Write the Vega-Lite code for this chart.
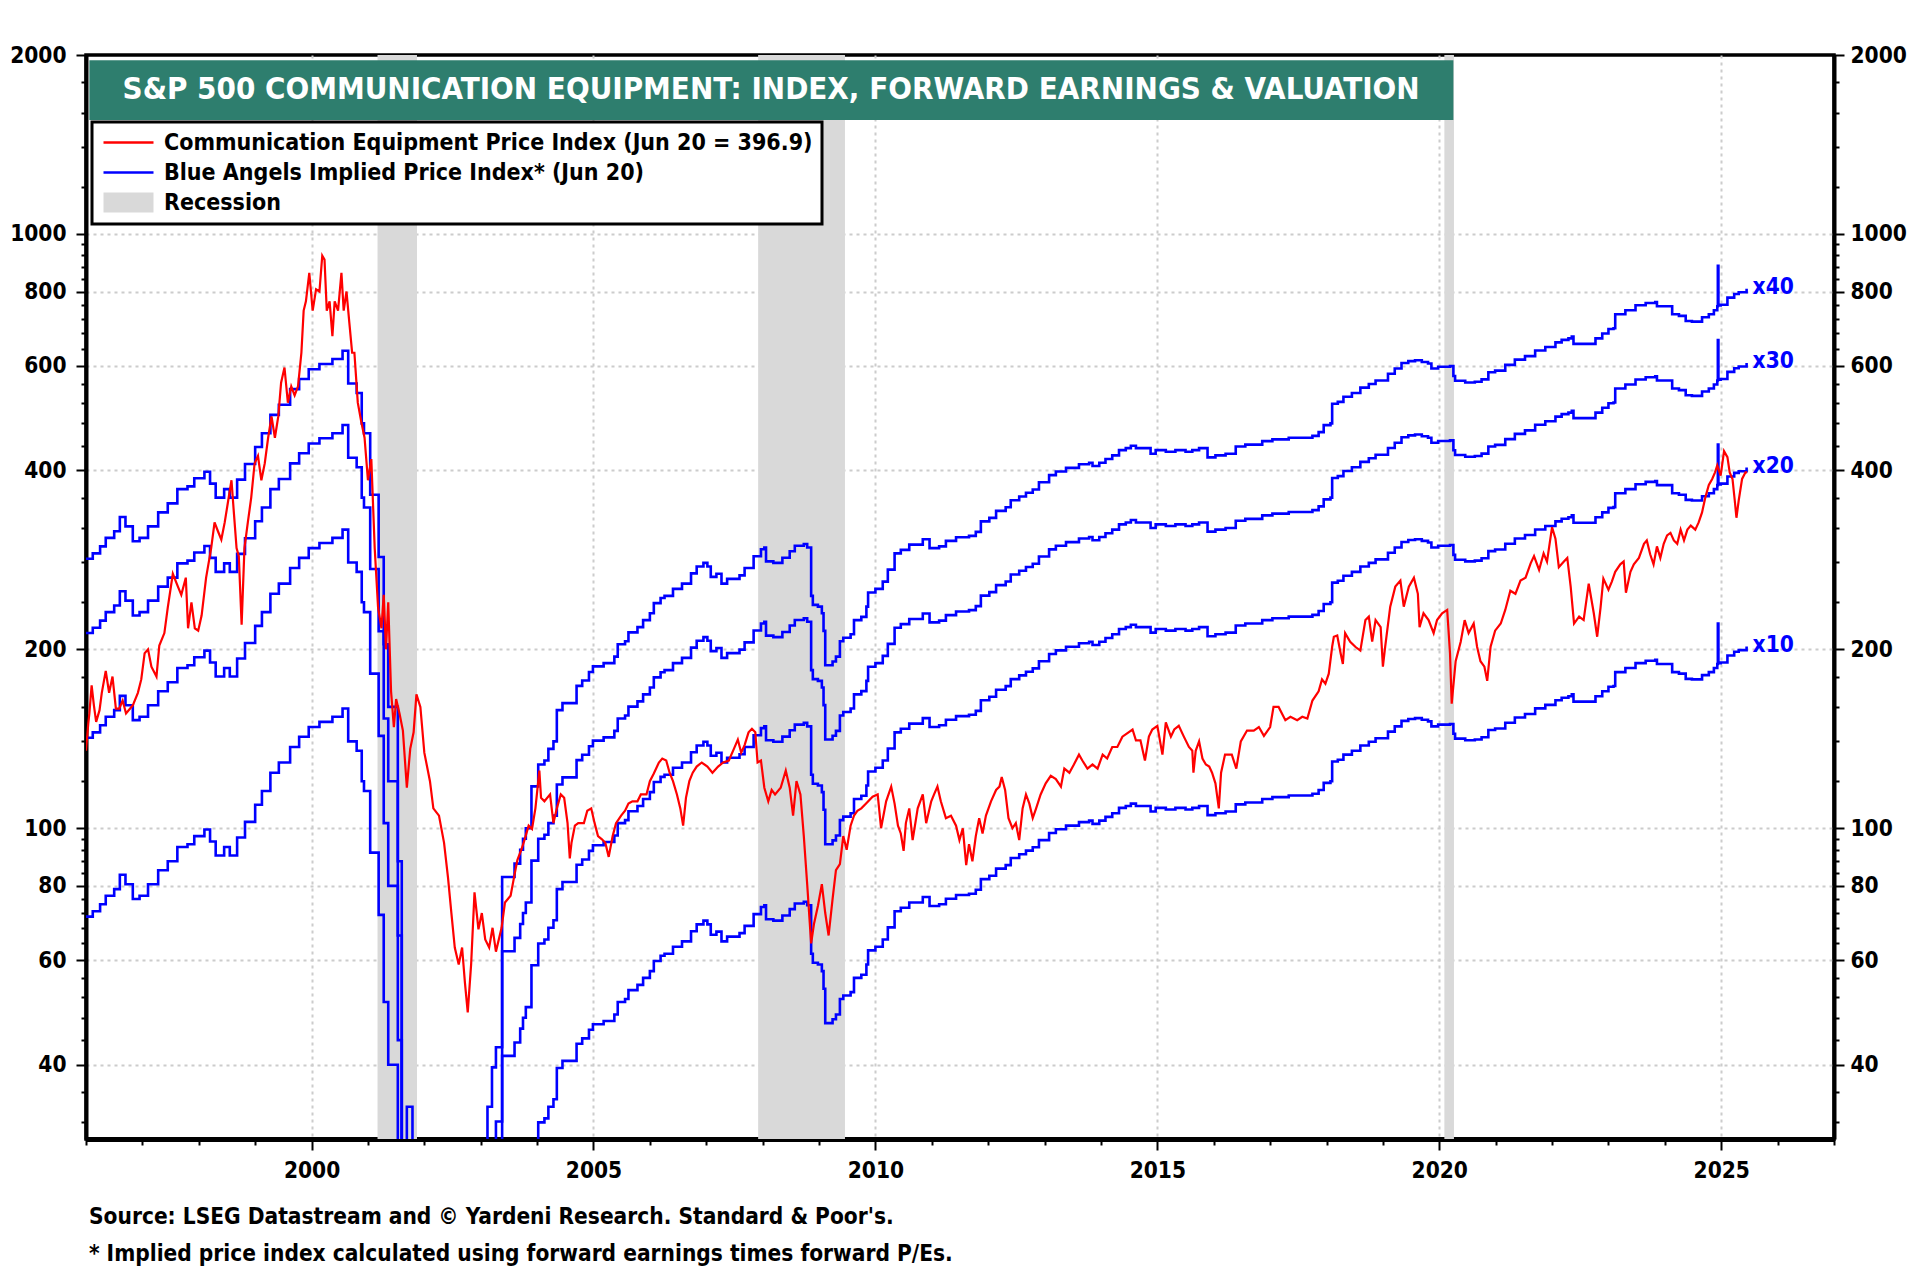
{
  "$schema": "https://vega.github.io/schema/vega-lite/v6.json",
  "width": 1748,
  "height": 1084,
  "autosize": {"type": "none"},
  "padding": {"left": 86, "top": 55, "right": 86, "bottom": 141},
  "background": "white",
  "config": {
    "font": "Liberation Sans Narrow, Arial Narrow, DejaVu Sans Condensed, sans-serif",
    "view": {"stroke": "black", "strokeWidth": 3.5},
    "axis": {
      "title": null,
      "domainColor": "black",
      "domainWidth": 4,
      "tickColor": "black",
      "tickWidth": 2,
      "labelColor": "black",
      "labelFontSize": 22.5,
      "labelFontWeight": "bold",
      "labelOverlap": false,
      "labelBound": false,
      "gridColor": "#cccccc",
      "gridDash": [3, 4],
      "gridWidth": 2
    }
  },
  "title": {
    "text": "Source: LSEG Datastream and © Yardeni Research. Standard & Poor's.",
    "subtitle": "* Implied price index calculated using forward earnings times forward P/Es.",
    "orient": "bottom",
    "anchor": "start",
    "frame": "group",
    "offset": 24,
    "dx": 3,
    "fontSize": 22.5,
    "fontWeight": "bold",
    "color": "black",
    "subtitleFontSize": 22.5,
    "subtitleFontWeight": "bold",
    "subtitleColor": "black",
    "subtitlePadding": 15
  },
  "datasets": {
    "recessions": [
      {"start": 2001.17, "end": 2001.87},
      {"start": 2007.92, "end": 2009.46},
      {"start": 2020.09, "end": 2020.26}
    ],
    "blue": [
      {"t": 1996.00, "x10": 71.0, "x20": 142.0, "x30": 213.0, "x40": 284.0},
      {"t": 1996.12, "x10": 72.5, "x20": 145.0, "x30": 217.5, "x40": 290.0},
      {"t": 1996.25, "x10": 74.5, "x20": 149.0, "x30": 223.5, "x40": 298.0},
      {"t": 1996.35, "x10": 77.0, "x20": 154.0, "x30": 231.0, "x40": 308.0},
      {"t": 1996.50, "x10": 79.0, "x20": 158.0, "x30": 237.0, "x40": 316.0},
      {"t": 1996.60, "x10": 83.5, "x20": 167.0, "x30": 250.5, "x40": 334.0},
      {"t": 1996.70, "x10": 80.5, "x20": 161.0, "x30": 241.5, "x40": 322.0},
      {"t": 1996.83, "x10": 76.0, "x20": 152.0, "x30": 228.0, "x40": 304.0},
      {"t": 1996.95, "x10": 77.0, "x20": 154.0, "x30": 231.0, "x40": 308.0},
      {"t": 1997.10, "x10": 80.5, "x20": 161.0, "x30": 241.5, "x40": 322.0},
      {"t": 1997.28, "x10": 85.0, "x20": 170.0, "x30": 255.0, "x40": 340.0},
      {"t": 1997.45, "x10": 88.0, "x20": 176.0, "x30": 264.0, "x40": 352.0},
      {"t": 1997.62, "x10": 93.0, "x20": 186.0, "x30": 279.0, "x40": 372.0},
      {"t": 1997.80, "x10": 94.0, "x20": 188.0, "x30": 282.0, "x40": 376.0},
      {"t": 1997.92, "x10": 97.0, "x20": 194.0, "x30": 291.0, "x40": 388.0},
      {"t": 1998.10, "x10": 99.5, "x20": 199.0, "x30": 298.5, "x40": 398.0},
      {"t": 1998.20, "x10": 95.0, "x20": 190.0, "x30": 285.0, "x40": 380.0},
      {"t": 1998.30, "x10": 90.0, "x20": 180.0, "x30": 270.0, "x40": 360.0},
      {"t": 1998.45, "x10": 93.0, "x20": 186.0, "x30": 279.0, "x40": 372.0},
      {"t": 1998.55, "x10": 90.0, "x20": 180.0, "x30": 270.0, "x40": 360.0},
      {"t": 1998.68, "x10": 96.5, "x20": 193.0, "x30": 289.5, "x40": 386.0},
      {"t": 1998.82, "x10": 102.5, "x20": 205.0, "x30": 307.5, "x40": 410.0},
      {"t": 1999.00, "x10": 109.5, "x20": 219.0, "x30": 328.5, "x40": 438.0},
      {"t": 1999.12, "x10": 115.5, "x20": 231.0, "x30": 346.5, "x40": 462.0},
      {"t": 1999.27, "x10": 124.0, "x20": 248.0, "x30": 372.0, "x40": 496.0},
      {"t": 1999.42, "x10": 129.0, "x20": 258.0, "x30": 387.0, "x40": 516.0},
      {"t": 1999.62, "x10": 137.0, "x20": 274.0, "x30": 411.0, "x40": 548.0},
      {"t": 1999.78, "x10": 142.5, "x20": 285.0, "x30": 427.5, "x40": 570.0},
      {"t": 1999.95, "x10": 148.0, "x20": 296.0, "x30": 444.0, "x40": 592.0},
      {"t": 2000.14, "x10": 151.0, "x20": 302.0, "x30": 453.0, "x40": 604.0},
      {"t": 2000.37, "x10": 154.0, "x20": 308.0, "x30": 462.0, "x40": 616.0},
      {"t": 2000.55, "x10": 159.0, "x20": 318.0, "x30": 477.0, "x40": 636.0},
      {"t": 2000.65, "x10": 140.0, "x20": 280.0, "x30": 420.0, "x40": 560.0},
      {"t": 2000.80, "x10": 135.0, "x20": 270.0, "x30": 405.0, "x40": 540.0},
      {"t": 2000.89, "x10": 120.0, "x20": 240.0, "x30": 360.0, "x40": 480.0},
      {"t": 2000.93, "x10": 115.5, "x20": 231.0, "x30": 346.5, "x40": 462.0},
      {"t": 2001.04, "x10": 91.0, "x20": 182.0, "x30": 273.0, "x40": 364.0},
      {"t": 2001.19, "x10": 71.5, "x20": 143.0, "x30": 214.5, "x40": 286.0},
      {"t": 2001.28, "x10": 51.0, "x20": 102.0, "x30": 153.0, "x40": 204.0},
      {"t": 2001.36, "x10": 40.0, "x20": 80.0, "x30": 120.0, "x40": 160.0},
      {"t": 2001.53, "x10": 22.0, "x20": 44.0, "x30": 66.0, "x40": 88.0},
      {"t": 2001.60, "x10": 5.0, "x20": 10.0, "x30": 15.0, "x40": 20.0},
      {"t": 2001.69, "x10": 8.5, "x20": 17.0, "x30": 25.5, "x40": 34.0},
      {"t": 2001.79, "x10": 5.0, "x20": 10.0, "x30": 15.0, "x40": 20.0},
      {"t": 2002.50, "x10": 3.0, "x20": 6.0, "x30": 9.0, "x40": 12.0},
      {"t": 2003.12, "x10": 8.5, "x20": 17.0, "x30": 25.5, "x40": 34.0},
      {"t": 2003.20, "x10": 9.9, "x20": 19.8, "x30": 29.7, "x40": 39.6},
      {"t": 2003.27, "x10": 10.7, "x20": 21.4, "x30": 32.1, "x40": 42.8},
      {"t": 2003.38, "x10": 20.7, "x20": 41.4, "x30": 62.1, "x40": 82.8},
      {"t": 2003.60, "x10": 21.8, "x20": 43.6, "x30": 65.4, "x40": 87.2},
      {"t": 2003.70, "x10": 23.0, "x20": 46.0, "x30": 69.0, "x40": 92.0},
      {"t": 2003.75, "x10": 24.0, "x20": 48.0, "x30": 72.0, "x40": 96.0},
      {"t": 2003.80, "x10": 25.0, "x20": 50.0, "x30": 75.0, "x40": 100.0},
      {"t": 2003.90, "x10": 29.4, "x20": 58.8, "x30": 88.2, "x40": 117.6},
      {"t": 2004.02, "x10": 32.0, "x20": 64.0, "x30": 96.0, "x40": 128.0},
      {"t": 2004.13, "x10": 32.5, "x20": 65.0, "x30": 97.5, "x40": 130.0},
      {"t": 2004.20, "x10": 34.0, "x20": 68.0, "x30": 102.0, "x40": 136.0},
      {"t": 2004.29, "x10": 35.0, "x20": 70.0, "x30": 105.0, "x40": 140.0},
      {"t": 2004.35, "x10": 39.5, "x20": 79.0, "x30": 118.5, "x40": 158.0},
      {"t": 2004.45, "x10": 40.6, "x20": 81.2, "x30": 121.8, "x40": 162.4},
      {"t": 2004.70, "x10": 43.4, "x20": 86.8, "x30": 130.2, "x40": 173.6},
      {"t": 2004.80, "x10": 44.3, "x20": 88.6, "x30": 132.9, "x40": 177.2},
      {"t": 2004.92, "x10": 45.8, "x20": 91.6, "x30": 137.4, "x40": 183.2},
      {"t": 2004.99, "x10": 46.8, "x20": 93.6, "x30": 140.4, "x40": 187.2},
      {"t": 2005.18, "x10": 47.4, "x20": 94.8, "x30": 142.2, "x40": 189.6},
      {"t": 2005.37, "x10": 48.6, "x20": 97.2, "x30": 145.8, "x40": 194.4},
      {"t": 2005.43, "x10": 51.0, "x20": 102.0, "x30": 153.0, "x40": 204.0},
      {"t": 2005.56, "x10": 51.6, "x20": 103.2, "x30": 154.8, "x40": 206.4},
      {"t": 2005.62, "x10": 53.4, "x20": 106.8, "x30": 160.2, "x40": 213.6},
      {"t": 2005.78, "x10": 54.5, "x20": 109.0, "x30": 163.5, "x40": 218.0},
      {"t": 2005.88, "x10": 56.0, "x20": 112.0, "x30": 168.0, "x40": 224.0},
      {"t": 2006.00, "x10": 57.5, "x20": 115.0, "x30": 172.5, "x40": 230.0},
      {"t": 2006.07, "x10": 59.8, "x20": 119.6, "x30": 179.4, "x40": 239.2},
      {"t": 2006.19, "x10": 61.0, "x20": 122.0, "x30": 183.0, "x40": 244.0},
      {"t": 2006.26, "x10": 61.5, "x20": 123.0, "x30": 184.5, "x40": 246.0},
      {"t": 2006.41, "x10": 63.2, "x20": 126.4, "x30": 189.6, "x40": 252.8},
      {"t": 2006.57, "x10": 64.5, "x20": 129.0, "x30": 193.5, "x40": 258.0},
      {"t": 2006.73, "x10": 67.1, "x20": 134.2, "x30": 201.3, "x40": 268.4},
      {"t": 2006.83, "x10": 68.9, "x20": 137.8, "x30": 206.7, "x40": 275.6},
      {"t": 2006.95, "x10": 69.9, "x20": 139.8, "x30": 209.7, "x40": 279.6},
      {"t": 2007.02, "x10": 68.9, "x20": 137.8, "x30": 206.7, "x40": 275.6},
      {"t": 2007.08, "x10": 66.2, "x20": 132.4, "x30": 198.6, "x40": 264.8},
      {"t": 2007.18, "x10": 67.0, "x20": 134.0, "x30": 201.0, "x40": 268.0},
      {"t": 2007.27, "x10": 64.5, "x20": 129.0, "x30": 193.5, "x40": 258.0},
      {"t": 2007.37, "x10": 65.7, "x20": 131.4, "x30": 197.1, "x40": 262.8},
      {"t": 2007.59, "x10": 66.6, "x20": 133.2, "x30": 199.8, "x40": 266.4},
      {"t": 2007.68, "x10": 68.5, "x20": 137.0, "x30": 205.5, "x40": 274.0},
      {"t": 2007.84, "x10": 71.7, "x20": 143.4, "x30": 215.1, "x40": 286.8},
      {"t": 2007.97, "x10": 73.7, "x20": 147.4, "x30": 221.1, "x40": 294.8},
      {"t": 2008.03, "x10": 74.2, "x20": 148.4, "x30": 222.6, "x40": 296.8},
      {"t": 2008.06, "x10": 70.3, "x20": 140.6, "x30": 210.9, "x40": 281.2},
      {"t": 2008.19, "x10": 69.9, "x20": 139.8, "x30": 209.7, "x40": 279.6},
      {"t": 2008.35, "x10": 71.3, "x20": 142.6, "x30": 213.9, "x40": 285.2},
      {"t": 2008.48, "x10": 73.1, "x20": 146.2, "x30": 219.3, "x40": 292.4},
      {"t": 2008.57, "x10": 74.7, "x20": 149.4, "x30": 224.1, "x40": 298.8},
      {"t": 2008.73, "x10": 75.2, "x20": 150.4, "x30": 225.6, "x40": 300.8},
      {"t": 2008.79, "x10": 74.2, "x20": 148.4, "x30": 222.6, "x40": 296.8},
      {"t": 2008.86, "x10": 61.5, "x20": 123.0, "x30": 184.5, "x40": 246.0},
      {"t": 2008.89, "x10": 59.4, "x20": 118.8, "x30": 178.2, "x40": 237.6},
      {"t": 2008.98, "x10": 59.0, "x20": 118.0, "x30": 177.0, "x40": 236.0},
      {"t": 2009.05, "x10": 57.5, "x20": 115.0, "x30": 172.5, "x40": 230.0},
      {"t": 2009.08, "x10": 53.7, "x20": 107.4, "x30": 161.1, "x40": 214.8},
      {"t": 2009.11, "x10": 47.0, "x20": 94.0, "x30": 141.0, "x40": 188.0},
      {"t": 2009.24, "x10": 47.7, "x20": 95.4, "x30": 143.1, "x40": 190.8},
      {"t": 2009.30, "x10": 48.6, "x20": 97.2, "x30": 145.8, "x40": 194.4},
      {"t": 2009.37, "x10": 51.6, "x20": 103.2, "x30": 154.8, "x40": 206.4},
      {"t": 2009.43, "x10": 52.3, "x20": 104.6, "x30": 156.9, "x40": 209.2},
      {"t": 2009.56, "x10": 53.0, "x20": 106.0, "x30": 159.0, "x40": 212.0},
      {"t": 2009.62, "x10": 56.0, "x20": 112.0, "x30": 168.0, "x40": 224.0},
      {"t": 2009.75, "x10": 56.7, "x20": 113.4, "x30": 170.1, "x40": 226.8},
      {"t": 2009.84, "x10": 59.0, "x20": 118.0, "x30": 177.0, "x40": 236.0},
      {"t": 2009.87, "x10": 62.3, "x20": 124.6, "x30": 186.9, "x40": 249.2},
      {"t": 2010.00, "x10": 63.2, "x20": 126.4, "x30": 189.6, "x40": 252.8},
      {"t": 2010.13, "x10": 65.0, "x20": 130.0, "x30": 195.0, "x40": 260.0},
      {"t": 2010.22, "x10": 68.1, "x20": 136.2, "x30": 204.3, "x40": 272.4},
      {"t": 2010.34, "x10": 72.5, "x20": 145.0, "x30": 217.5, "x40": 290.0},
      {"t": 2010.45, "x10": 73.5, "x20": 147.0, "x30": 220.5, "x40": 294.0},
      {"t": 2010.60, "x10": 75.0, "x20": 150.0, "x30": 225.0, "x40": 300.0},
      {"t": 2010.84, "x10": 76.6, "x20": 153.2, "x30": 229.8, "x40": 306.4},
      {"t": 2010.96, "x10": 74.0, "x20": 148.0, "x30": 222.0, "x40": 296.0},
      {"t": 2011.13, "x10": 74.5, "x20": 149.0, "x30": 223.5, "x40": 298.0},
      {"t": 2011.25, "x10": 76.1, "x20": 152.2, "x30": 228.3, "x40": 304.4},
      {"t": 2011.43, "x10": 77.2, "x20": 154.4, "x30": 231.6, "x40": 308.8},
      {"t": 2011.66, "x10": 77.6, "x20": 155.2, "x30": 232.8, "x40": 310.4},
      {"t": 2011.78, "x10": 78.8, "x20": 157.6, "x30": 236.4, "x40": 315.2},
      {"t": 2011.87, "x10": 82.1, "x20": 164.2, "x30": 246.3, "x40": 328.4},
      {"t": 2012.02, "x10": 83.2, "x20": 166.4, "x30": 249.6, "x40": 332.8},
      {"t": 2012.14, "x10": 85.5, "x20": 171.0, "x30": 256.5, "x40": 342.0},
      {"t": 2012.31, "x10": 86.7, "x20": 173.4, "x30": 260.1, "x40": 346.8},
      {"t": 2012.40, "x10": 89.1, "x20": 178.2, "x30": 267.3, "x40": 356.4},
      {"t": 2012.55, "x10": 90.4, "x20": 180.8, "x30": 271.2, "x40": 361.6},
      {"t": 2012.67, "x10": 91.7, "x20": 183.4, "x30": 275.1, "x40": 366.8},
      {"t": 2012.79, "x10": 92.9, "x20": 185.8, "x30": 278.7, "x40": 371.6},
      {"t": 2012.90, "x10": 95.5, "x20": 191.0, "x30": 286.5, "x40": 382.0},
      {"t": 2013.08, "x10": 98.2, "x20": 196.4, "x30": 294.6, "x40": 392.8},
      {"t": 2013.20, "x10": 99.6, "x20": 199.2, "x30": 298.8, "x40": 398.4},
      {"t": 2013.38, "x10": 101.0, "x20": 202.0, "x30": 303.0, "x40": 404.0},
      {"t": 2013.61, "x10": 102.4, "x20": 204.8, "x30": 307.2, "x40": 409.6},
      {"t": 2013.79, "x10": 103.0, "x20": 206.0, "x30": 309.0, "x40": 412.0},
      {"t": 2013.85, "x10": 101.7, "x20": 203.4, "x30": 305.1, "x40": 406.8},
      {"t": 2013.97, "x10": 103.0, "x20": 206.0, "x30": 309.0, "x40": 412.0},
      {"t": 2014.08, "x10": 104.5, "x20": 209.0, "x30": 313.5, "x40": 418.0},
      {"t": 2014.20, "x10": 106.0, "x20": 212.0, "x30": 318.0, "x40": 424.0},
      {"t": 2014.32, "x10": 108.2, "x20": 216.4, "x30": 324.6, "x40": 432.8},
      {"t": 2014.44, "x10": 109.0, "x20": 218.0, "x30": 327.0, "x40": 436.0},
      {"t": 2014.53, "x10": 110.0, "x20": 220.0, "x30": 330.0, "x40": 440.0},
      {"t": 2014.62, "x10": 109.0, "x20": 218.0, "x30": 327.0, "x40": 436.0},
      {"t": 2014.88, "x10": 106.7, "x20": 213.4, "x30": 320.1, "x40": 426.8},
      {"t": 2014.97, "x10": 108.2, "x20": 216.4, "x30": 324.6, "x40": 432.8},
      {"t": 2015.15, "x10": 107.5, "x20": 215.0, "x30": 322.5, "x40": 430.0},
      {"t": 2015.32, "x10": 108.2, "x20": 216.4, "x30": 324.6, "x40": 432.8},
      {"t": 2015.50, "x10": 107.5, "x20": 215.0, "x30": 322.5, "x40": 430.0},
      {"t": 2015.62, "x10": 108.2, "x20": 216.4, "x30": 324.6, "x40": 432.8},
      {"t": 2015.74, "x10": 109.0, "x20": 218.0, "x30": 327.0, "x40": 436.0},
      {"t": 2015.89, "x10": 105.2, "x20": 210.4, "x30": 315.6, "x40": 420.8},
      {"t": 2016.03, "x10": 106.0, "x20": 212.0, "x30": 318.0, "x40": 424.0},
      {"t": 2016.21, "x10": 106.7, "x20": 213.4, "x30": 320.1, "x40": 426.8},
      {"t": 2016.39, "x10": 109.7, "x20": 219.4, "x30": 329.1, "x40": 438.8},
      {"t": 2016.56, "x10": 110.5, "x20": 221.0, "x30": 331.5, "x40": 442.0},
      {"t": 2016.86, "x10": 112.0, "x20": 224.0, "x30": 336.0, "x40": 448.0},
      {"t": 2017.04, "x10": 112.8, "x20": 225.6, "x30": 338.4, "x40": 451.2},
      {"t": 2017.33, "x10": 113.5, "x20": 227.0, "x30": 340.5, "x40": 454.0},
      {"t": 2017.75, "x10": 114.3, "x20": 228.6, "x30": 342.9, "x40": 457.2},
      {"t": 2017.86, "x10": 116.0, "x20": 232.0, "x30": 348.0, "x40": 464.0},
      {"t": 2017.95, "x10": 119.2, "x20": 238.4, "x30": 357.6, "x40": 476.8},
      {"t": 2018.07, "x10": 120.0, "x20": 240.0, "x30": 360.0, "x40": 480.0},
      {"t": 2018.10, "x10": 129.5, "x20": 259.0, "x30": 388.5, "x40": 518.0},
      {"t": 2018.20, "x10": 130.4, "x20": 260.8, "x30": 391.2, "x40": 521.6},
      {"t": 2018.30, "x10": 133.0, "x20": 266.0, "x30": 399.0, "x40": 532.0},
      {"t": 2018.45, "x10": 135.0, "x20": 270.0, "x30": 405.0, "x40": 540.0},
      {"t": 2018.60, "x10": 137.8, "x20": 275.6, "x30": 413.4, "x40": 551.2},
      {"t": 2018.75, "x10": 139.8, "x20": 279.6, "x30": 419.4, "x40": 559.2},
      {"t": 2018.87, "x10": 141.7, "x20": 283.4, "x30": 425.1, "x40": 566.8},
      {"t": 2019.09, "x10": 145.4, "x20": 290.8, "x30": 436.2, "x40": 581.6},
      {"t": 2019.21, "x10": 148.4, "x20": 296.8, "x30": 445.2, "x40": 593.6},
      {"t": 2019.33, "x10": 151.6, "x20": 303.2, "x30": 454.8, "x40": 606.4},
      {"t": 2019.45, "x10": 152.7, "x20": 305.4, "x30": 458.1, "x40": 610.8},
      {"t": 2019.57, "x10": 153.2, "x20": 306.4, "x30": 459.6, "x40": 612.8},
      {"t": 2019.69, "x10": 152.2, "x20": 304.4, "x30": 456.6, "x40": 608.8},
      {"t": 2019.80, "x10": 151.3, "x20": 302.6, "x30": 453.9, "x40": 605.2},
      {"t": 2019.86, "x10": 148.4, "x20": 296.8, "x30": 445.2, "x40": 593.6},
      {"t": 2019.98, "x10": 149.4, "x20": 298.8, "x30": 448.2, "x40": 597.6},
      {"t": 2020.19, "x10": 149.8, "x20": 299.6, "x30": 449.4, "x40": 599.2},
      {"t": 2020.25, "x10": 144.2, "x20": 288.4, "x30": 432.6, "x40": 576.8},
      {"t": 2020.28, "x10": 141.5, "x20": 283.0, "x30": 424.5, "x40": 566.0},
      {"t": 2020.46, "x10": 140.6, "x20": 281.2, "x30": 421.8, "x40": 562.4},
      {"t": 2020.63, "x10": 141.0, "x20": 282.0, "x30": 423.0, "x40": 564.0},
      {"t": 2020.75, "x10": 142.3, "x20": 284.6, "x30": 426.9, "x40": 569.2},
      {"t": 2020.87, "x10": 146.3, "x20": 292.6, "x30": 438.9, "x40": 585.2},
      {"t": 2020.99, "x10": 147.2, "x20": 294.4, "x30": 441.6, "x40": 588.8},
      {"t": 2021.17, "x10": 150.5, "x20": 301.0, "x30": 451.5, "x40": 602.0},
      {"t": 2021.34, "x10": 153.6, "x20": 307.2, "x30": 460.8, "x40": 614.4},
      {"t": 2021.52, "x10": 155.7, "x20": 311.4, "x30": 467.1, "x40": 622.8},
      {"t": 2021.70, "x10": 159.1, "x20": 318.2, "x30": 477.3, "x40": 636.4},
      {"t": 2021.88, "x10": 161.3, "x20": 322.6, "x30": 483.9, "x40": 645.2},
      {"t": 2022.06, "x10": 164.2, "x20": 328.4, "x30": 492.6, "x40": 656.8},
      {"t": 2022.17, "x10": 165.8, "x20": 331.6, "x30": 497.4, "x40": 663.2},
      {"t": 2022.29, "x10": 166.8, "x20": 333.6, "x30": 500.4, "x40": 667.2},
      {"t": 2022.35, "x10": 168.0, "x20": 336.0, "x30": 504.0, "x40": 672.0},
      {"t": 2022.38, "x10": 163.3, "x20": 326.6, "x30": 489.9, "x40": 653.2},
      {"t": 2022.77, "x10": 166.8, "x20": 333.6, "x30": 500.4, "x40": 667.2},
      {"t": 2022.89, "x10": 170.0, "x20": 340.0, "x30": 510.0, "x40": 680.0},
      {"t": 2023.00, "x10": 173.0, "x20": 346.0, "x30": 519.0, "x40": 692.0},
      {"t": 2023.09, "x10": 173.5, "x20": 347.0, "x30": 520.5, "x40": 694.0},
      {"t": 2023.12, "x10": 183.1, "x20": 366.2, "x30": 549.3, "x40": 732.4},
      {"t": 2023.30, "x10": 186.0, "x20": 372.0, "x30": 558.0, "x40": 744.0},
      {"t": 2023.48, "x10": 189.6, "x20": 379.2, "x30": 568.8, "x40": 758.4},
      {"t": 2023.66, "x10": 191.3, "x20": 382.6, "x30": 573.9, "x40": 765.2},
      {"t": 2023.83, "x10": 192.0, "x20": 384.0, "x30": 576.0, "x40": 768.0},
      {"t": 2023.86, "x10": 188.9, "x20": 377.8, "x30": 566.7, "x40": 755.6},
      {"t": 2024.13, "x10": 183.1, "x20": 366.2, "x30": 549.3, "x40": 732.4},
      {"t": 2024.25, "x10": 182.0, "x20": 364.0, "x30": 546.0, "x40": 728.0},
      {"t": 2024.37, "x10": 178.4, "x20": 356.8, "x30": 535.2, "x40": 713.6},
      {"t": 2024.48, "x10": 178.0, "x20": 356.0, "x30": 534.0, "x40": 712.0},
      {"t": 2024.66, "x10": 181.0, "x20": 362.0, "x30": 543.0, "x40": 724.0},
      {"t": 2024.78, "x10": 183.1, "x20": 366.2, "x30": 549.3, "x40": 732.4},
      {"t": 2024.87, "x10": 186.0, "x20": 372.0, "x30": 558.0, "x40": 744.0},
      {"t": 2024.93, "x10": 188.9, "x20": 377.8, "x30": 566.7, "x40": 755.6},
      {"t": 2024.94, "x10": 221.0, "x20": 442.0, "x30": 663.0, "x40": 884.0},
      {"t": 2024.95, "x10": 189.5, "x20": 379.0, "x30": 568.5, "x40": 758.0},
      {"t": 2024.99, "x10": 190.0, "x20": 380.0, "x30": 570.0, "x40": 760.0},
      {"t": 2025.11, "x10": 195.3, "x20": 390.6, "x30": 585.9, "x40": 781.2},
      {"t": 2025.23, "x10": 198.1, "x20": 396.2, "x30": 594.3, "x40": 792.4},
      {"t": 2025.31, "x10": 199.4, "x20": 398.8, "x30": 598.2, "x40": 797.6},
      {"t": 2025.45, "x10": 202.2, "x20": 404.4, "x30": 606.6, "x40": 808.8}
    ],
    "red": [
      {"t": 1996.00, "v": 135}, {"t": 1996.04, "v": 150}, {"t": 1996.06, "v": 156}, {"t": 1996.10, "v": 174},
      {"t": 1996.14, "v": 161}, {"t": 1996.18, "v": 151}, {"t": 1996.24, "v": 158}, {"t": 1996.28, "v": 169},
      {"t": 1996.35, "v": 184}, {"t": 1996.41, "v": 169}, {"t": 1996.47, "v": 180}, {"t": 1996.53, "v": 159},
      {"t": 1996.59, "v": 159}, {"t": 1996.65, "v": 164}, {"t": 1996.71, "v": 156}, {"t": 1996.83, "v": 161},
      {"t": 1996.92, "v": 169}, {"t": 1996.98, "v": 178}, {"t": 1997.04, "v": 197}, {"t": 1997.10, "v": 200},
      {"t": 1997.16, "v": 187}, {"t": 1997.25, "v": 180}, {"t": 1997.30, "v": 203}, {"t": 1997.39, "v": 213},
      {"t": 1997.45, "v": 235}, {"t": 1997.54, "v": 268}, {"t": 1997.63, "v": 255}, {"t": 1997.69, "v": 247},
      {"t": 1997.77, "v": 264}, {"t": 1997.81, "v": 217}, {"t": 1997.87, "v": 240}, {"t": 1997.93, "v": 217},
      {"t": 1997.99, "v": 215}, {"t": 1998.05, "v": 228}, {"t": 1998.13, "v": 264}, {"t": 1998.22, "v": 296},
      {"t": 1998.28, "v": 327}, {"t": 1998.34, "v": 316}, {"t": 1998.40, "v": 306}, {"t": 1998.46, "v": 327},
      {"t": 1998.52, "v": 355}, {"t": 1998.58, "v": 385}, {"t": 1998.62, "v": 342}, {"t": 1998.67, "v": 296},
      {"t": 1998.71, "v": 287}, {"t": 1998.76, "v": 220}, {"t": 1998.81, "v": 296}, {"t": 1998.87, "v": 327},
      {"t": 1998.93, "v": 360}, {"t": 1998.99, "v": 411}, {"t": 1999.05, "v": 423}, {"t": 1999.11, "v": 385},
      {"t": 1999.17, "v": 411}, {"t": 1999.23, "v": 454}, {"t": 1999.29, "v": 493}, {"t": 1999.35, "v": 454},
      {"t": 1999.41, "v": 493}, {"t": 1999.46, "v": 562}, {"t": 1999.52, "v": 596}, {"t": 1999.58, "v": 520},
      {"t": 1999.64, "v": 554}, {"t": 1999.70, "v": 535}, {"t": 1999.76, "v": 554}, {"t": 1999.82, "v": 631},
      {"t": 1999.86, "v": 743}, {"t": 1999.90, "v": 770}, {"t": 1999.96, "v": 860}, {"t": 2000.02, "v": 743},
      {"t": 2000.08, "v": 807}, {"t": 2000.14, "v": 800}, {"t": 2000.19, "v": 919}, {"t": 2000.23, "v": 905},
      {"t": 2000.27, "v": 743}, {"t": 2000.32, "v": 770}, {"t": 2000.37, "v": 673}, {"t": 2000.41, "v": 770},
      {"t": 2000.47, "v": 743}, {"t": 2000.53, "v": 860}, {"t": 2000.57, "v": 743}, {"t": 2000.62, "v": 800},
      {"t": 2000.67, "v": 709}, {"t": 2000.72, "v": 631}, {"t": 2000.76, "v": 631}, {"t": 2000.82, "v": 520},
      {"t": 2000.88, "v": 484}, {"t": 2000.94, "v": 454}, {"t": 2001.00, "v": 385}, {"t": 2001.06, "v": 418},
      {"t": 2001.12, "v": 296}, {"t": 2001.18, "v": 235}, {"t": 2001.24, "v": 217}, {"t": 2001.28, "v": 247},
      {"t": 2001.32, "v": 200}, {"t": 2001.36, "v": 240}, {"t": 2001.41, "v": 170}, {"t": 2001.46, "v": 148},
      {"t": 2001.50, "v": 165}, {"t": 2001.56, "v": 156}, {"t": 2001.62, "v": 146}, {"t": 2001.69, "v": 117},
      {"t": 2001.75, "v": 136}, {"t": 2001.81, "v": 145}, {"t": 2001.86, "v": 168}, {"t": 2001.93, "v": 160},
      {"t": 2002.00, "v": 134}, {"t": 2002.10, "v": 120}, {"t": 2002.16, "v": 108}, {"t": 2002.26, "v": 105},
      {"t": 2002.35, "v": 94.5}, {"t": 2002.42, "v": 82.6}, {"t": 2002.48, "v": 72}, {"t": 2002.54, "v": 63},
      {"t": 2002.61, "v": 59}, {"t": 2002.67, "v": 63}, {"t": 2002.72, "v": 55}, {"t": 2002.77, "v": 49},
      {"t": 2002.83, "v": 59}, {"t": 2002.89, "v": 78}, {"t": 2002.96, "v": 67.6}, {"t": 2003.02, "v": 72},
      {"t": 2003.08, "v": 65}, {"t": 2003.15, "v": 63}, {"t": 2003.21, "v": 68}, {"t": 2003.27, "v": 62},
      {"t": 2003.37, "v": 68}, {"t": 2003.43, "v": 75}, {"t": 2003.53, "v": 77}, {"t": 2003.59, "v": 82.6},
      {"t": 2003.65, "v": 88.4}, {"t": 2003.72, "v": 92}, {"t": 2003.78, "v": 95.8}, {"t": 2003.85, "v": 101},
      {"t": 2003.91, "v": 99.7}, {"t": 2003.97, "v": 108}, {"t": 2004.04, "v": 125}, {"t": 2004.07, "v": 112.5},
      {"t": 2004.13, "v": 111}, {"t": 2004.23, "v": 114}, {"t": 2004.29, "v": 102}, {"t": 2004.35, "v": 108},
      {"t": 2004.42, "v": 114}, {"t": 2004.48, "v": 112.5}, {"t": 2004.54, "v": 102}, {"t": 2004.58, "v": 89},
      {"t": 2004.61, "v": 94.5}, {"t": 2004.67, "v": 101}, {"t": 2004.73, "v": 102}, {"t": 2004.83, "v": 102},
      {"t": 2004.89, "v": 107}, {"t": 2004.96, "v": 108}, {"t": 2005.02, "v": 102}, {"t": 2005.08, "v": 97},
      {"t": 2005.15, "v": 95.8}, {"t": 2005.21, "v": 94.5}, {"t": 2005.27, "v": 89.5}, {"t": 2005.34, "v": 97},
      {"t": 2005.40, "v": 102}, {"t": 2005.49, "v": 105}, {"t": 2005.56, "v": 107}, {"t": 2005.62, "v": 110},
      {"t": 2005.69, "v": 111}, {"t": 2005.78, "v": 111}, {"t": 2005.84, "v": 114}, {"t": 2005.94, "v": 114},
      {"t": 2006.00, "v": 120}, {"t": 2006.07, "v": 123.6}, {"t": 2006.16, "v": 129}, {"t": 2006.22, "v": 131},
      {"t": 2006.29, "v": 130}, {"t": 2006.35, "v": 124}, {"t": 2006.41, "v": 120}, {"t": 2006.48, "v": 114},
      {"t": 2006.54, "v": 108}, {"t": 2006.59, "v": 101}, {"t": 2006.64, "v": 112.5}, {"t": 2006.70, "v": 120},
      {"t": 2006.76, "v": 124}, {"t": 2006.83, "v": 127}, {"t": 2006.92, "v": 129}, {"t": 2007.02, "v": 127},
      {"t": 2007.11, "v": 124}, {"t": 2007.21, "v": 127}, {"t": 2007.30, "v": 129}, {"t": 2007.40, "v": 130},
      {"t": 2007.49, "v": 136}, {"t": 2007.56, "v": 141}, {"t": 2007.62, "v": 134}, {"t": 2007.68, "v": 138},
      {"t": 2007.75, "v": 145}, {"t": 2007.81, "v": 147}, {"t": 2007.87, "v": 145}, {"t": 2007.91, "v": 129},
      {"t": 2007.97, "v": 130}, {"t": 2008.03, "v": 117}, {"t": 2008.10, "v": 111}, {"t": 2008.16, "v": 116},
      {"t": 2008.22, "v": 114}, {"t": 2008.32, "v": 117}, {"t": 2008.41, "v": 125}, {"t": 2008.48, "v": 117},
      {"t": 2008.54, "v": 105}, {"t": 2008.60, "v": 120}, {"t": 2008.67, "v": 114}, {"t": 2008.73, "v": 97},
      {"t": 2008.79, "v": 80.5}, {"t": 2008.86, "v": 64}, {"t": 2008.91, "v": 69}, {"t": 2008.98, "v": 74},
      {"t": 2009.05, "v": 80.5}, {"t": 2009.11, "v": 72}, {"t": 2009.17, "v": 66}, {"t": 2009.24, "v": 76},
      {"t": 2009.30, "v": 85}, {"t": 2009.37, "v": 87}, {"t": 2009.43, "v": 97}, {"t": 2009.49, "v": 92},
      {"t": 2009.56, "v": 101}, {"t": 2009.62, "v": 105}, {"t": 2009.68, "v": 107}, {"t": 2009.75, "v": 108},
      {"t": 2009.83, "v": 110}, {"t": 2009.95, "v": 113}, {"t": 2010.04, "v": 114}, {"t": 2010.10, "v": 100},
      {"t": 2010.19, "v": 111}, {"t": 2010.28, "v": 117.5}, {"t": 2010.34, "v": 110}, {"t": 2010.40, "v": 101},
      {"t": 2010.45, "v": 98}, {"t": 2010.50, "v": 91.6}, {"t": 2010.54, "v": 102}, {"t": 2010.60, "v": 108},
      {"t": 2010.66, "v": 95.5}, {"t": 2010.75, "v": 108}, {"t": 2010.84, "v": 114}, {"t": 2010.90, "v": 102},
      {"t": 2010.99, "v": 111}, {"t": 2011.04, "v": 114}, {"t": 2011.10, "v": 117.5}, {"t": 2011.16, "v": 111},
      {"t": 2011.25, "v": 104}, {"t": 2011.34, "v": 105}, {"t": 2011.43, "v": 101}, {"t": 2011.49, "v": 95.5},
      {"t": 2011.55, "v": 100}, {"t": 2011.61, "v": 86.7}, {"t": 2011.66, "v": 94}, {"t": 2011.72, "v": 88},
      {"t": 2011.78, "v": 97}, {"t": 2011.84, "v": 104}, {"t": 2011.90, "v": 98}, {"t": 2011.96, "v": 105},
      {"t": 2012.05, "v": 111}, {"t": 2012.14, "v": 116}, {"t": 2012.20, "v": 117.5}, {"t": 2012.24, "v": 122},
      {"t": 2012.30, "v": 116}, {"t": 2012.36, "v": 104}, {"t": 2012.43, "v": 100}, {"t": 2012.49, "v": 102},
      {"t": 2012.55, "v": 95.5}, {"t": 2012.61, "v": 108}, {"t": 2012.67, "v": 114}, {"t": 2012.73, "v": 110},
      {"t": 2012.79, "v": 104}, {"t": 2012.85, "v": 108}, {"t": 2012.93, "v": 114}, {"t": 2013.02, "v": 119},
      {"t": 2013.11, "v": 122.5}, {"t": 2013.20, "v": 121}, {"t": 2013.29, "v": 117.5}, {"t": 2013.35, "v": 126},
      {"t": 2013.44, "v": 124}, {"t": 2013.52, "v": 128}, {"t": 2013.61, "v": 133}, {"t": 2013.67, "v": 130},
      {"t": 2013.76, "v": 126}, {"t": 2013.85, "v": 128}, {"t": 2013.94, "v": 126}, {"t": 2014.03, "v": 133},
      {"t": 2014.11, "v": 131}, {"t": 2014.20, "v": 137}, {"t": 2014.29, "v": 137}, {"t": 2014.38, "v": 142.6},
      {"t": 2014.47, "v": 144.6}, {"t": 2014.56, "v": 146.6}, {"t": 2014.62, "v": 140.6}, {"t": 2014.70, "v": 140.6},
      {"t": 2014.78, "v": 130}, {"t": 2014.85, "v": 142.6}, {"t": 2014.91, "v": 146.6}, {"t": 2015.00, "v": 148.7},
      {"t": 2015.09, "v": 133}, {"t": 2015.15, "v": 150.7}, {"t": 2015.24, "v": 142.6}, {"t": 2015.30, "v": 146.6},
      {"t": 2015.38, "v": 148.7}, {"t": 2015.47, "v": 142.6}, {"t": 2015.56, "v": 137}, {"t": 2015.62, "v": 135},
      {"t": 2015.64, "v": 124}, {"t": 2015.68, "v": 135}, {"t": 2015.74, "v": 140}, {"t": 2015.80, "v": 131},
      {"t": 2015.86, "v": 128}, {"t": 2015.92, "v": 127}, {"t": 2015.97, "v": 124}, {"t": 2016.03, "v": 119},
      {"t": 2016.09, "v": 108}, {"t": 2016.13, "v": 124}, {"t": 2016.20, "v": 133}, {"t": 2016.32, "v": 133},
      {"t": 2016.40, "v": 126}, {"t": 2016.48, "v": 140}, {"t": 2016.59, "v": 146}, {"t": 2016.71, "v": 146},
      {"t": 2016.80, "v": 148}, {"t": 2016.89, "v": 143}, {"t": 2017.00, "v": 148}, {"t": 2017.06, "v": 160},
      {"t": 2017.15, "v": 160}, {"t": 2017.27, "v": 152}, {"t": 2017.36, "v": 154}, {"t": 2017.48, "v": 152},
      {"t": 2017.57, "v": 154}, {"t": 2017.66, "v": 153}, {"t": 2017.75, "v": 164}, {"t": 2017.86, "v": 170},
      {"t": 2017.92, "v": 178}, {"t": 2017.98, "v": 175}, {"t": 2018.04, "v": 182}, {"t": 2018.10, "v": 202},
      {"t": 2018.13, "v": 210}, {"t": 2018.19, "v": 211}, {"t": 2018.25, "v": 197}, {"t": 2018.29, "v": 189},
      {"t": 2018.33, "v": 213}, {"t": 2018.42, "v": 206}, {"t": 2018.51, "v": 202}, {"t": 2018.60, "v": 199},
      {"t": 2018.69, "v": 224}, {"t": 2018.75, "v": 227}, {"t": 2018.81, "v": 206}, {"t": 2018.87, "v": 224},
      {"t": 2018.96, "v": 218}, {"t": 2019.00, "v": 187}, {"t": 2019.04, "v": 202}, {"t": 2019.13, "v": 236},
      {"t": 2019.22, "v": 255}, {"t": 2019.31, "v": 261}, {"t": 2019.37, "v": 236}, {"t": 2019.46, "v": 255},
      {"t": 2019.55, "v": 264}, {"t": 2019.62, "v": 248}, {"t": 2019.65, "v": 218}, {"t": 2019.72, "v": 230},
      {"t": 2019.81, "v": 224}, {"t": 2019.90, "v": 213}, {"t": 2019.96, "v": 224}, {"t": 2020.05, "v": 230},
      {"t": 2020.14, "v": 233}, {"t": 2020.19, "v": 197}, {"t": 2020.22, "v": 162}, {"t": 2020.29, "v": 191},
      {"t": 2020.38, "v": 206}, {"t": 2020.45, "v": 224}, {"t": 2020.52, "v": 213}, {"t": 2020.61, "v": 221},
      {"t": 2020.67, "v": 202}, {"t": 2020.73, "v": 191}, {"t": 2020.80, "v": 187}, {"t": 2020.85, "v": 177},
      {"t": 2020.91, "v": 202}, {"t": 2020.99, "v": 215}, {"t": 2021.09, "v": 221}, {"t": 2021.17, "v": 233},
      {"t": 2021.26, "v": 251}, {"t": 2021.35, "v": 248}, {"t": 2021.44, "v": 261}, {"t": 2021.53, "v": 264},
      {"t": 2021.62, "v": 279}, {"t": 2021.68, "v": 287}, {"t": 2021.77, "v": 272}, {"t": 2021.85, "v": 290},
      {"t": 2021.91, "v": 281}, {"t": 2022.00, "v": 321}, {"t": 2022.06, "v": 307}, {"t": 2022.12, "v": 275},
      {"t": 2022.21, "v": 281}, {"t": 2022.27, "v": 285}, {"t": 2022.33, "v": 255}, {"t": 2022.39, "v": 221},
      {"t": 2022.48, "v": 227}, {"t": 2022.56, "v": 224}, {"t": 2022.65, "v": 258}, {"t": 2022.74, "v": 230},
      {"t": 2022.80, "v": 210}, {"t": 2022.86, "v": 235}, {"t": 2022.91, "v": 263}, {"t": 2023.00, "v": 252},
      {"t": 2023.06, "v": 260}, {"t": 2023.12, "v": 270},
      {"t": 2023.21, "v": 278}, {"t": 2023.27, "v": 281}, {"t": 2023.31, "v": 249}, {"t": 2023.39, "v": 270},
      {"t": 2023.45, "v": 278}, {"t": 2023.54, "v": 285}, {"t": 2023.63, "v": 301}, {"t": 2023.68, "v": 305},
      {"t": 2023.74, "v": 289}, {"t": 2023.80, "v": 278}, {"t": 2023.86, "v": 298}, {"t": 2023.92, "v": 285},
      {"t": 2023.98, "v": 301}, {"t": 2024.04, "v": 311}, {"t": 2024.10, "v": 314}, {"t": 2024.16, "v": 305},
      {"t": 2024.22, "v": 301}, {"t": 2024.28, "v": 318}, {"t": 2024.34, "v": 305}, {"t": 2024.40, "v": 318},
      {"t": 2024.46, "v": 323}, {"t": 2024.54, "v": 318}, {"t": 2024.60, "v": 327}, {"t": 2024.66, "v": 340},
      {"t": 2024.72, "v": 361}, {"t": 2024.78, "v": 378}, {"t": 2024.84, "v": 387}, {"t": 2024.89, "v": 397},
      {"t": 2024.93, "v": 408}, {"t": 2024.99, "v": 392}, {"t": 2025.05, "v": 431}, {"t": 2025.11, "v": 421},
      {"t": 2025.15, "v": 397}, {"t": 2025.20, "v": 387}, {"t": 2025.24, "v": 356}, {"t": 2025.27, "v": 333},
      {"t": 2025.31, "v": 356}, {"t": 2025.37, "v": 387}, {"t": 2025.43, "v": 397}, {"t": 2025.46, "v": 396.9}
    ]
  },
  "resolve": {"scale": {"x": "shared", "y": "shared", "color": "shared"}, "axis": {"y": "independent"}},
  "layer": [
    {
      "data": {"name": "recessions"},
      "mark": {"type": "rect"},
      "encoding": {
        "x": {
          "field": "start",
          "type": "quantitative",
          "scale": {"domain": [1996, 2027], "nice": false, "zero": false},
          "axis": {
            "values": [1996, 1997, 1998, 1999, 2000, 2001, 2002, 2003, 2004, 2005, 2006, 2007, 2008, 2009, 2010, 2011, 2012, 2013, 2014, 2015, 2016, 2017, 2018, 2019, 2020, 2021, 2022, 2023, 2024, 2025, 2026, 2027],
            "format": "d",
            "labelExpr": "datum.value % 5 === 0 ? datum.label : ''",
            "labelPadding": 9,
            "domainWidth": 5,
            "grid": true,
            "gridOpacity": {"condition": {"test": "datum.value % 5 === 0", "value": 1}, "value": 0},
            "tickSize": {"condition": {"test": "datum.value % 5 === 0", "value": 11}, "value": 6}
          }
        },
        "x2": {"field": "end"},
        "color": {
          "datum": "Recession",
          "scale": {
            "domain": ["Communication Equipment Price Index (Jun 20 = 396.9)", "Blue Angels Implied Price Index* (Jun 20)", "Recession"],
            "range": ["#ff0000", "#0000ff", "#d9d9d9"]
          },
          "legend": {
            "orient": "none",
            "legendX": 6,
            "legendY": 67,
            "title": null,
            "direction": "vertical",
            "strokeColor": "black",
            "fillColor": "white",
            "padding": 9,
            "symbolType": "M-2.5,0H2.5",
            "symbolSize": 400,
            "symbolStrokeWidth": 2.5,
            "symbolOffset": 16,
            "labelOffset": 24,
            "labelFontSize": 23,
            "labelFontWeight": "bold",
            "labelColor": "black",
            "labelLimit": 1200,
            "rowPadding": 6,
            "encode": {
              "legend": {"update": {"strokeWidth": {"value": 3}}},
              "symbols": {
                "update": {
                  "shape": {"signal": "datum.value === 'Recession' ? 'M-2.5,-1H2.5V1H-2.5Z' : 'M-2.5,0H2.5'"},
                  "fill": {"signal": "datum.value === 'Recession' ? '#d9d9d9' : 'transparent'"},
                  "stroke": {"signal": "datum.value === 'Recession' ? 'transparent' : (indexof(datum.value, 'Blue') === 0 ? '#0000ff' : '#ff0000')"},
                  "strokeWidth": {"signal": "datum.value === 'Recession' ? 0 : 2.5"},
                  "opacity": {"value": 1}
                }
              }
            }
          }
        }
      }
    },
    {
      "data": {"name": "blue"},
      "transform": [{"fold": ["x10", "x20", "x30", "x40"], "as": ["m", "v"]}],
      "mark": {"type": "line", "interpolate": "step-after", "strokeWidth": 2.6, "clip": true},
      "encoding": {
        "x": {"field": "t", "type": "quantitative"},
        "y": {
          "field": "v",
          "type": "quantitative",
          "scale": {"type": "log", "domain": [30, 2000], "nice": false},
          "axis": {
            "orient": "left",
            "values": [32, 36, 40, 44, 48, 52, 56, 60, 64, 68, 72, 76, 80, 84, 88, 92, 96, 100, 120, 140, 160, 180, 200, 240, 280, 320, 360, 400, 440, 480, 520, 560, 600, 640, 680, 720, 760, 800, 840, 880, 920, 960, 1000, 1200, 1400, 1600, 1800, 2000],
            "format": "d",
            "labelExpr": "indexof([40, 60, 80, 100, 200, 400, 600, 800, 1000, 2000], datum.value) >= 0 ? datum.label : ''",
            "labelPadding": 10,
            "grid": true,
            "gridOpacity": {"condition": {"test": "indexof([40, 60, 80, 100, 200, 400, 600, 800, 1000], datum.value) >= 0", "value": 1}, "value": 0},
            "tickSize": {"condition": {"test": "indexof([40, 60, 80, 100, 200, 400, 600, 800, 1000, 2000], datum.value) >= 0", "value": 10}, "value": 5}
          }
        },
        "detail": {"field": "m"},
        "color": {"datum": "Blue Angels Implied Price Index* (Jun 20)"}
      }
    },
    {
      "data": {"name": "red"},
      "mark": {"type": "line", "strokeWidth": 2.2, "clip": true},
      "encoding": {
        "x": {"field": "t", "type": "quantitative"},
        "y": {
          "field": "v",
          "type": "quantitative",
          "axis": {
            "orient": "right",
            "values": [32, 36, 40, 44, 48, 52, 56, 60, 64, 68, 72, 76, 80, 84, 88, 92, 96, 100, 120, 140, 160, 180, 200, 240, 280, 320, 360, 400, 440, 480, 520, 560, 600, 640, 680, 720, 760, 800, 840, 880, 920, 960, 1000, 1200, 1400, 1600, 1800, 2000],
            "format": "d",
            "labelExpr": "indexof([40, 60, 80, 100, 200, 400, 600, 800, 1000, 2000], datum.value) >= 0 ? datum.label : ''",
            "labelPadding": 6,
            "grid": false,
            "tickSize": {"condition": {"test": "indexof([40, 60, 80, 100, 200, 400, 600, 800, 1000, 2000], datum.value) >= 0", "value": 10}, "value": 5}
          }
        },
        "color": {"datum": "Communication Equipment Price Index (Jun 20 = 396.9)"}
      }
    },
    {
      "data": {"name": "blue"},
      "transform": [
        {"fold": ["x10", "x20", "x30", "x40"], "as": ["m", "v"]},
        {"aggregate": [{"op": "argmax", "field": "t", "as": "last"}], "groupby": ["m"]}
      ],
      "mark": {"type": "text", "align": "left", "baseline": "middle", "dx": 6, "dy": -2, "fontSize": 22.5, "fontWeight": "bold", "color": "#0000ff"},
      "encoding": {
        "x": {"field": "last.t", "type": "quantitative"},
        "y": {"field": "last.v", "type": "quantitative", "axis": null},
        "text": {"field": "m"}
      }
    },
    {
      "data": {"values": [{}]},
      "mark": {"type": "rect", "color": "#2e7e6e"},
      "encoding": {
        "x": {"datum": 1996.06, "type": "quantitative"},
        "x2": {"datum": 2020.25},
        "y": {"datum": 1960, "type": "quantitative", "axis": null},
        "y2": {"datum": 1555}
      }
    },
    {
      "data": {"values": [{}]},
      "mark": {"type": "text", "align": "center", "baseline": "middle", "fontSize": 31, "fontWeight": "bold", "color": "white"},
      "encoding": {
        "x": {"datum": 2008.15, "type": "quantitative"},
        "y": {"datum": 1745, "type": "quantitative", "axis": null},
        "text": {"value": "S&P 500 COMMUNICATION EQUIPMENT: INDEX, FORWARD EARNINGS & VALUATION"}
      }
    }
  ]
}
